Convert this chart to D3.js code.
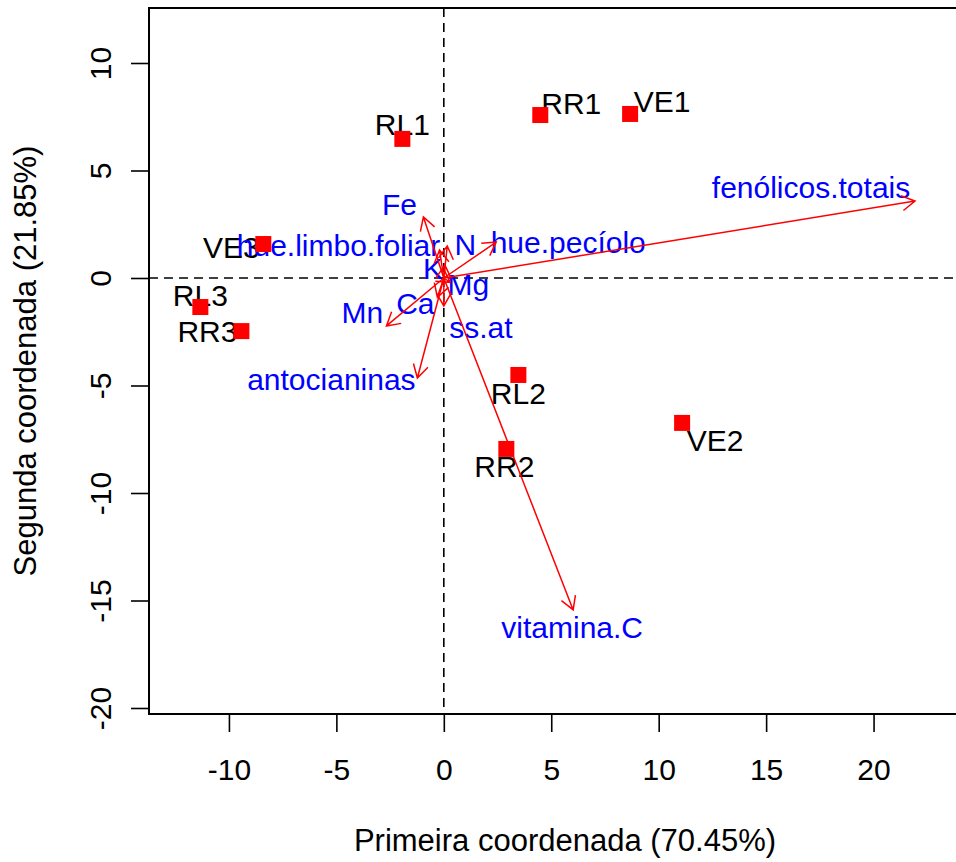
<!DOCTYPE html>
<html>
<head>
<meta charset="utf-8">
<script src="https://cdn.jsdelivr.net/npm/d3@7"></script>
<style>
  html, body { margin: 0; padding: 0; background: #fff; }
  svg { display: block; }
  text { font-family: "Liberation Sans", Arial, sans-serif; }
</style>
</head>
<body>
<script>
// ---- data ----
const sampleNames = ["RL1", "RR1", "VE1", "RL2", "RR2", "VE2", "RL3", "RR3", "VE3"];
const sampleX = [-1.93, 4.49, 8.67, 3.47, 2.91, 11.09, -11.33, -9.42, -8.40];
const sampleY = [6.47, 7.58, 7.63, -4.51, -7.95, -6.74, -1.35, -2.47, 1.58];

const varNames = ["fenólicos.totais", "vitamina.C", "antocianinas", "Mn", "Fe", "hue.pecíolo",
                  "N", "hue.limbo.foliar", "K", "Mg", "Ca", "ss.at"];
const varX = [21.93, 6.02, -1.23, -2.67, -0.95, 2.44, 0.16, -0.20, 0.05, 0.30, -0.30, 0.00];
const varY = [3.58, -15.44, -4.65, -2.23, 2.84, 1.67, 1.49, 1.30, 0.60, -0.20, -0.90, -1.30];

const xTicks = [-10, -5, 0, 5, 10, 15, 20];
const yTicks = [-20, -15, -10, -5, 0, 5, 10];
const xTitle = "Primeira coordenada (70.45%)";
const yTitle = "Segunda coordenada (21.85%)";

// ---- layout (label offsets in pixels, kept apart from the values) ----
const sampleLabelOffset = [[0, -14], [31, -12], [32, -12], [0, 19], [-2, 18], [33, 18], [0, -12], [-34, 0], [-32, 3]];
const varLabelOffset = [[-104, -14], [-1, 18], [-86, 2], [-24, -13], [-24, -12], [72, 0],
                        [18, -1], [-101, -5], [-12, 3], [18, 2], [-22, 6], [37, 22]];

const W = 956, H = 862;
const pLeft = 149, pTop = 8, pBottom = 714, pRight = 981;
const FS = 30;

const x = d3.scaleLinear().domain([-13.72, (pRight - 443.5) / 21.5]).range([pLeft, pRight]);
const y = d3.scaleLinear().domain([-(pBottom - 278) / 21.5, (278 - pTop) / 21.5]).range([pBottom, pTop]);

const svg = d3.select("body").append("svg").attr("width", W).attr("height", H);

svg.append("defs").append("clipPath").attr("id", "plotclip")
  .append("rect").attr("x", pLeft).attr("y", pTop).attr("width", pRight - pLeft).attr("height", pBottom - pTop);

const fmt = d => String(d);

// axes
const xAxis = d3.axisBottom(x).tickValues(xTicks).tickSize(18).tickPadding(27).tickFormat(fmt);
const gx = svg.append("g").attr("transform", `translate(0,${pBottom})`).call(xAxis);
gx.select(".domain").remove();
gx.selectAll("line").attr("stroke", "#000").attr("stroke-width", 1.6);
gx.selectAll("text").attr("font-size", FS).attr("fill", "#000")
  .attr("font-family", "Liberation Sans, Arial, sans-serif");

const yAxis = d3.axisLeft(y).tickValues(yTicks).tickSize(18).tickFormat("");
const gy = svg.append("g").attr("transform", `translate(${pLeft},0)`).call(yAxis);
gy.select(".domain").remove();
gy.selectAll("line").attr("stroke", "#000").attr("stroke-width", 1.6);
gy.selectAll(".tick").append("text")
  .attr("transform", "translate(-38,0) rotate(-90)")
  .attr("text-anchor", "middle")
  .attr("fill", "#000")
  .attr("font-size", FS)
  .text(fmt);

// titles
svg.append("text").attr("x", (pLeft + pRight) / 2).attr("y", 851)
  .attr("text-anchor", "middle").attr("font-size", 31).attr("fill", "#000").text(xTitle);
svg.append("text").attr("transform", `translate(36,${(pTop + pBottom) / 2}) rotate(-90)`)
  .attr("text-anchor", "middle").attr("font-size", 31).attr("fill", "#000").text(yTitle);

const plot = svg.append("g").attr("clip-path", "url(#plotclip)");

// reference dashed lines
plot.append("line").attr("x1", pLeft).attr("x2", pRight).attr("y1", y(0)).attr("y2", y(0))
  .attr("stroke", "#000").attr("stroke-width", 1.6).attr("stroke-dasharray", "9,6");
plot.append("line").attr("x1", x(0)).attr("x2", x(0)).attr("y1", pTop).attr("y2", pBottom)
  .attr("stroke", "#000").attr("stroke-width", 1.6).attr("stroke-dasharray", "9,6");

// sample labels
plot.selectAll("text.samp").data(sampleNames).join("text").attr("class", "samp")
  .attr("x", (d, i) => x(sampleX[i]) + sampleLabelOffset[i][0])
  .attr("y", (d, i) => y(sampleY[i]) + sampleLabelOffset[i][1])
  .attr("dy", "0.35em")
  .attr("text-anchor", "middle").attr("font-size", FS).attr("fill", "#000").text(d => d);

// variable labels
plot.selectAll("text.var").data(varNames).join("text").attr("class", "var")
  .attr("x", (d, i) => x(varX[i]) + varLabelOffset[i][0])
  .attr("y", (d, i) => y(varY[i]) + varLabelOffset[i][1])
  .attr("dy", "0.35em")
  .attr("text-anchor", "middle").attr("font-size", FS).attr("fill", "#0000ff").text(d => d);

// arrows
const headLen = 15, headAng = Math.PI / 6;
const arrows = plot.append("g").attr("stroke", "#ff0000").attr("stroke-width", 1.5).attr("fill", "none");
varNames.forEach((n, i) => {
  const x0 = x(0), y0 = y(0), x1 = x(varX[i]), y1 = y(varY[i]);
  const a = Math.atan2(y1 - y0, x1 - x0);
  const p = d3.path();
  p.moveTo(x0, y0); p.lineTo(x1, y1);
  p.moveTo(x1 - headLen * Math.cos(a - headAng), y1 - headLen * Math.sin(a - headAng));
  p.lineTo(x1, y1);
  p.lineTo(x1 - headLen * Math.cos(a + headAng), y1 - headLen * Math.sin(a + headAng));
  arrows.append("path").attr("d", p.toString());
});

// sample points
const S = 16;
plot.selectAll("rect.pt").data(sampleNames).join("rect").attr("class", "pt")
  .attr("x", (d, i) => x(sampleX[i]) - S / 2)
  .attr("y", (d, i) => y(sampleY[i]) - S / 2)
  .attr("width", S).attr("height", S).attr("fill", "#ff0000");

// box
svg.append("rect").attr("x", pLeft).attr("y", pTop).attr("width", pRight - pLeft).attr("height", pBottom - pTop)
  .attr("fill", "none").attr("stroke", "#000").attr("stroke-width", 2);
</script>
</body>
</html>
